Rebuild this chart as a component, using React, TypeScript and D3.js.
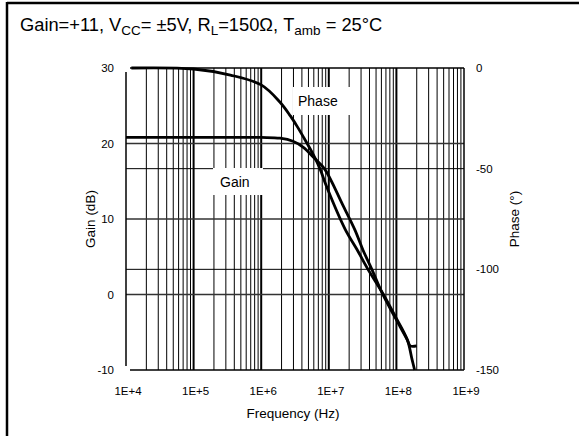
import React from "react";
import * as d3 from "d3";

const gainFreq = [1e4, 1e5, 1e6, 1.9e6, 2.95e6, 4.2e6, 6.2e6, 8.7e6, 1.6e7, 2.45e7, 3.2e7, 4.4e7, 6.3e7, 9.5e7, 1.45e8, 1.6e8, 2.0e8];
const gainDb = [20.8, 20.8, 20.8, 20.7, 20.3, 19.5, 18.0, 16.6, 11.9, 8.5, 5.9, 3.2, 0, -3.0, -6.0, -6.8, -6.8];

const phaseFreq = [1.2e4, 1e5, 3.5e5, 1e6, 1.9e6, 2.7e6, 3.4e6, 4.2e6, 5.9e6, 7.4e6, 9.3e6, 1.74e7, 2.6e7, 3.8e7, 6.3e7, 9.5e7, 1.45e8, 1.7e8, 1.86e8];
const phaseDeg = [0, -0.5, -3.5, -8.4, -17, -23.8, -29, -34.2, -43, -50, -59, -80, -90, -100, -112, -123, -135, -144.6, -150];

const gainTicks = [30, 20, 10, 0, -10];
const phaseTicks = [0, -50, -100, -150];
const freqTicks = [1e4, 1e5, 1e6, 1e7, 1e8, 1e9];
const freqTickLabels = ["1E+4", "1E+5", "1E+6", "1E+7", "1E+8", "1E+9"];

export default function App() {
  const W = 579, H = 436;
  const x = d3.scaleLog().domain([1e4, 1e9]).range([126, 464]);
  const yG = d3.scaleLinear().domain([-10, 30]).range([370, 68]);
  const yP = d3.scaleLinear().domain([-150, 0]).range([370, 68]);
  const top = 68, bottom = 370, left = 126, right = 464;

  const minor: { v: number; decade: boolean }[] = [];
  for (let d = 4; d <= 8; d++) {
    for (let m = 1; m <= 9; m++) {
      const v = m * Math.pow(10, d);
      if (d === 4 && m === 1) continue;
      minor.push({ v, decade: m === 1 });
    }
  }

  const gainLine = d3.line<number>()
    .x((_, i) => x(gainFreq[i]))
    .y((d) => yG(d))
    .curve(d3.curveCatmullRom.alpha(0.5));
  const phaseLine = d3.line<number>()
    .x((_, i) => x(phaseFreq[i]))
    .y((d) => yP(d))
    .curve(d3.curveCatmullRom.alpha(0.5));

  const font = "Liberation Sans, Arial, sans-serif";

  return (
    <svg width={W} height={H} style={{ position: "absolute", left: 0, top: 0, background: "#fff" }} fontFamily={font}>
      <rect x={0} y={0} width={W} height={H} fill="#fff" />
      {/* frame */}
      <line x1={7} x2={W} y1={3} y2={3} stroke="#000" strokeWidth={2.5} />
      <line x1={7} x2={7} y1={2} y2={H} stroke="#000" strokeWidth={2.5} />
      {/* title */}
      <text x={20} y={31} fontSize={18.3} fill="#000">
        Gain=+11, V<tspan fontSize={13.5} dy={4}>CC</tspan><tspan dy={-4}>= ±5V, R</tspan>
        <tspan fontSize={13.5} dy={4}>L</tspan><tspan dy={-4}>=150Ω, T</tspan>
        <tspan fontSize={13.5} dy={4}>amb</tspan><tspan dy={-4}> = 25°C</tspan>
      </text>

      {/* vertical grid */}
      {minor.map((g, i) => (
        <line key={i} x1={x(g.v)} x2={x(g.v)} y1={top} y2={bottom} stroke="#000" strokeWidth={g.decade ? 2 : 1} />
      ))}
      {/* horizontal grid */}
      {[20, 10, 0].map((g) => (
        <line key={"g" + g} x1={left} x2={right} y1={yG(g)} y2={yG(g)} stroke="#333" strokeWidth={1.6} />
      ))}
      {[-50, -100].map((p) => (
        <line key={"p" + p} x1={left} x2={right} y1={yP(p)} y2={yP(p)} stroke="#000" strokeWidth={1} />
      ))}
      {/* plot border */}
      <line x1={130} x2={right} y1={top} y2={top} stroke="#000" strokeWidth={1.5} />
      <line x1={130} x2={right} y1={bottom} y2={bottom} stroke="#000" strokeWidth={1.5} />
      <line x1={right} x2={right} y1={top} y2={bottom} stroke="#000" strokeWidth={1.5} />
      <line x1={left} x2={left} y1={72} y2={366} stroke="#000" strokeWidth={1.5} />

      {/* label boxes */}
      <rect x={293} y={87} width={67} height={28} fill="#fff" />
      <text x={298} y={106} fontSize={14} fill="#000">Phase</text>
      <rect x={213} y={168} width={50} height={27} fill="#fff" />
      <text x={220} y={187} fontSize={14} fill="#000">Gain</text>

      {/* curves */}
      <path d={gainLine(gainDb) || ""} fill="none" stroke="#000" strokeWidth={2.8} />
      <path d={phaseLine(phaseDeg) || ""} fill="none" stroke="#000" strokeWidth={2.8} />

      {/* ticks */}
      {gainTicks.map((t) => (
        <text key={"lt" + t} x={114} y={yG(t)} dy="0.35em" textAnchor="end" fontSize={11.5}>{t}</text>
      ))}
      {phaseTicks.map((t) => (
        <text key={"rt" + t} x={476} y={yP(t)} dy="0.35em" textAnchor="start" fontSize={11.5}>{t}</text>
      ))}
      {freqTicks.map((f, i) => (
        <text key={"ft" + i} x={x(f) + 2} y={395} textAnchor="middle" fontSize={11.5}>{freqTickLabels[i]}</text>
      ))}
      <text x={293} y={418} textAnchor="middle" fontSize={13.5}>Frequency (Hz)</text>
      <text transform={`translate(95,219) rotate(-90)`} textAnchor="middle" fontSize={13.5}>Gain (dB)</text>
      <text transform={`translate(519,219) rotate(-90)`} textAnchor="middle" fontSize={13.5}>Phase (°)</text>
    </svg>
  );
}
